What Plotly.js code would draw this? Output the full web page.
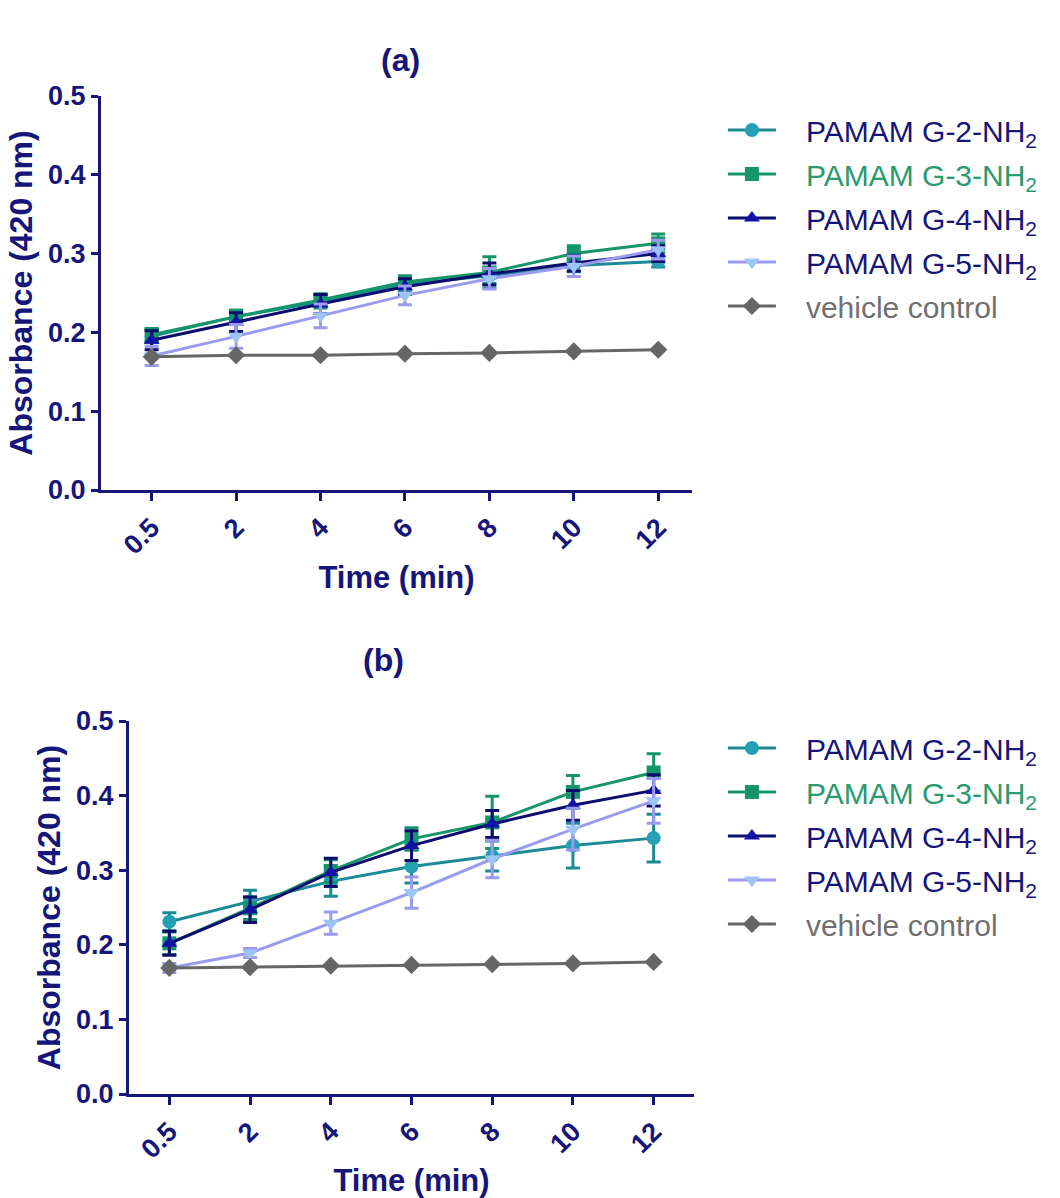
<!DOCTYPE html>
<html>
<head>
<meta charset="utf-8">
<script src="https://cdn.plot.ly/plotly-3.0.1.min.js"></script>
<style>html,body{margin:0;padding:0;background:#fff;}#chart{width:1060px;height:1198px;}</style>
</head>
<body>
<div id="chart"></div>
<script>
// Category tick labels (time, min)
const timeLabels = ['0.5', '2', '4', '6', '8', '10', '12'];

// Series names
const seriesNames = ['PAMAM G-2-NH<sub>2</sub>', 'PAMAM G-3-NH<sub>2</sub>', 'PAMAM G-4-NH<sub>2</sub>', 'PAMAM G-5-NH<sub>2</sub>', 'vehicle control'];

// Panel (a) values
const a_G2 = [0.195, 0.220, 0.239, 0.261, 0.272, 0.285, 0.290];
const a_G3 = [0.197, 0.220, 0.241, 0.264, 0.276, 0.300, 0.313];
const a_G4 = [0.190, 0.213, 0.236, 0.258, 0.274, 0.288, 0.300];
const a_G5 = [0.170, 0.195, 0.221, 0.247, 0.268, 0.284, 0.305];
const a_VC = [0.169, 0.171, 0.171, 0.173, 0.174, 0.176, 0.178];
const a_G2_err = [0.008, 0.008, 0.008, 0.008, 0.010, 0.008, 0.007];
const a_G3_err = [0.008, 0.008, 0.008, 0.008, 0.020, 0.010, 0.012];
const a_G4_err = [0.012, 0.012, 0.012, 0.010, 0.014, 0.010, 0.010];
const a_G5_err = [0.012, 0.015, 0.015, 0.012, 0.013, 0.013, 0.012];

// Panel (b) values
const b_G2 = [0.231, 0.258, 0.285, 0.305, 0.319, 0.333, 0.343];
const b_G3 = [0.202, 0.249, 0.299, 0.342, 0.364, 0.405, 0.431];
const b_G4 = [0.202, 0.247, 0.297, 0.333, 0.362, 0.387, 0.407];
const b_G5 = [0.169, 0.189, 0.229, 0.270, 0.315, 0.355, 0.393];
const b_VC = [0.169, 0.170, 0.172, 0.173, 0.174, 0.175, 0.177];
const b_G2_err = [0.012, 0.015, 0.020, 0.022, 0.020, 0.030, 0.032];
const b_G3_err = [0.015, 0.015, 0.015, 0.015, 0.035, 0.022, 0.025];
const b_G4_err = [0.016, 0.017, 0.019, 0.020, 0.018, 0.020, 0.021];
const b_G5_err = [0.006, 0.006, 0.015, 0.021, 0.025, 0.028, 0.030];

const NAVY = '#15157a';
const lineColors = ['#1b8a96', '#16956a', '#0d0d6e', '#9a9aee', '#666666'];
const markerColors = ['#23a0b4', '#16956a', '#1212a8', '#9cc4f4', '#666666'];
const symbols = ['circle', 'square', 'triangle-up', 'triangle-down', 'diamond'];
const legendTextColors = [NAVY, '#2a9a70', NAVY, NAVY, '#707070'];

function mk(i, y, err, xa, ya, leg) {
  const t = {
    type: 'scatter', mode: 'lines+markers',
    x: timeLabels, y: y,
    xaxis: xa, yaxis: ya,
    name: '<span style="color:' + legendTextColors[i] + '">\u00a0\u00a0\u00a0' + seriesNames[i] + '</span>',
    legend: leg, legendgroup: leg + 'g' + i,
    line: {color: lineColors[i], width: 3},
    marker: {symbol: symbols[i], size: 14, color: markerColors[i]},
    showlegend: true
  };
  if (err) {
    t.error_y = {type: 'data', array: err, visible: true, color: lineColors[i], thickness: 3, width: 7};
  }
  return t;
}

const data = [
  mk(0, a_G2, a_G2_err, 'x', 'y', 'legend'),
  mk(1, a_G3, a_G3_err, 'x', 'y', 'legend'),
  mk(2, a_G4, a_G4_err, 'x', 'y', 'legend'),
  mk(3, a_G5, a_G5_err, 'x', 'y', 'legend'),
  mk(4, a_VC, null, 'x', 'y', 'legend'),
  mk(0, b_G2, b_G2_err, 'x2', 'y2', 'legend2'),
  mk(1, b_G3, b_G3_err, 'x2', 'y2', 'legend2'),
  mk(2, b_G4, b_G4_err, 'x2', 'y2', 'legend2'),
  mk(3, b_G5, b_G5_err, 'x2', 'y2', 'legend2'),
  mk(4, b_VC, null, 'x2', 'y2', 'legend2')
];

const FONT = 'Arial, "Liberation Sans", sans-serif';
const tickFont = {family: FONT, size: 27, color: NAVY, weight: 'bold'};
const xTitleFont = {family: FONT, size: 31, color: NAVY, weight: 'bold'};
const yTitleFont = {family: FONT, size: 32, color: NAVY, weight: 'bold'};

function xax(domain, range, anchor) {
  return {
    domain: domain, anchor: anchor, type: 'category', range: range,
    showline: true, linecolor: NAVY, linewidth: 3,
    ticks: 'outside', ticklen: 8, tickwidth: 3, tickcolor: NAVY,
    tickangle: -45, tickfont: tickFont,
    showgrid: false, zeroline: false, fixedrange: true,
    title: {text: 'Time (min)', font: xTitleFont, standoff: 8}
  };
}
function yax(domain, anchor, standoff) {
  return {
    domain: domain, anchor: anchor, range: [0, 0.5],
    tickvals: [0, 0.1, 0.2, 0.3, 0.4, 0.5], ticktext: ['0.0', '0.1', '0.2', '0.3', '0.4', '0.5'],
    showline: true, linecolor: NAVY, linewidth: 3,
    ticks: 'outside', ticklen: 7, tickwidth: 3, tickcolor: NAVY,
    tickfont: tickFont, showgrid: false, zeroline: false, fixedrange: true,
    title: {text: 'Absorbance (420 nm)', font: yTitleFont, standoff: standoff}
  };
}

const legendCommon = {
  font: {family: FONT, size: 30, color: NAVY},
  bgcolor: 'rgba(0,0,0,0)', borderwidth: 0,
  xanchor: 'left', yanchor: 'top',
  tracegroupgap: 2, itemwidth: 48
};

const layout = {
  width: 1060, height: 1198,
  margin: {l: 0, r: 0, t: 0, b: 0},
  paper_bgcolor: '#ffffff', plot_bgcolor: '#ffffff',
  showlegend: true,
  xaxis: xax([101 / 1060, 692 / 1060], [-0.6, 6.4], 'y'),
  yaxis: yax([1 - 490 / 1198, 1 - 96 / 1198], 'x', 6),
  xaxis2: xax([129 / 1060, 694 / 1060], [-0.5, 6.5], 'y2'),
  yaxis2: yax([1 - 1094 / 1198, 1 - 721 / 1198], 'x2', 6),
  legend: Object.assign({}, legendCommon, {x: 0.682, y: 1 - 104 / 1198}),
  legend2: Object.assign({}, legendCommon, {x: 0.682, y: 1 - 722 / 1198}),
  annotations: [
    {text: '(a)', x: 400 / 1060, y: 1 - 40 / 1198, xref: 'paper', yref: 'paper', showarrow: false,
     font: {family: FONT, size: 32, color: NAVY, weight: 'bold'}},
    {text: '(b)', x: 383 / 1060, y: 1 - 660 / 1198, xref: 'paper', yref: 'paper', showarrow: false,
     font: {family: FONT, size: 32, color: NAVY, weight: 'bold'}}
  ]
};

Plotly.newPlot('chart', data, layout, {displayModeBar: false, staticPlot: true});
</script>
</body>
</html>
